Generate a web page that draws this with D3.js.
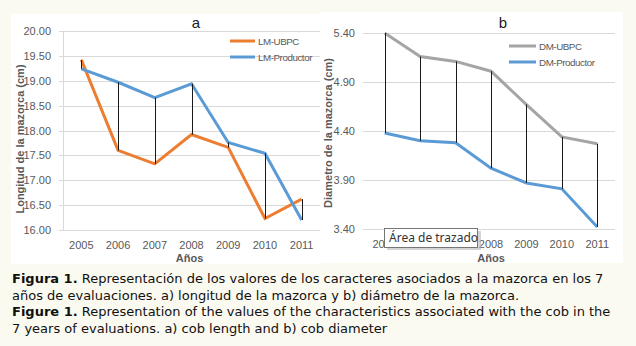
<!DOCTYPE html>
<html>
<head>
<meta charset="utf-8">
<script src="https://cdn.jsdelivr.net/npm/d3@7"></script>
<style>
  body { margin: 0; background: #fbfaf1; }
  svg { display: block; }
</style>
</head>
<body>
<div id="svgcontainer"></div>
<script>
var years = ["2005", "2006", "2007", "2008", "2009", "2010", "2011"];

// a) longitud de la mazorca (cm)
var lmUBPC = [19.42, 17.60, 17.33, 17.92, 17.66, 16.23, 16.62];
var lmProductor = [19.24, 18.97, 18.66, 18.94, 17.76, 17.54, 16.20];
var lmTicks = [16, 16.5, 17, 17.5, 18, 18.5, 19, 19.5, 20];

// b) diametro de la mazorca (cm)
var dmUBPC = [5.40, 5.16, 5.11, 5.01, 4.67, 4.34, 4.27];
var dmProductor = [4.38, 4.30, 4.28, 4.02, 3.87, 3.81, 3.42];
var dmTicks = [3.4, 3.9, 4.4, 4.9, 5.4];

var caption = [
  [["Figura 1.", true], [" Representación de los valores de los caracteres asociados a la mazorca en los 7", false]],
  [["años de evaluaciones. a) longitud de la mazorca y b) diámetro de la mazorca.", false]],
  [["Figure 1.", true], [" Representation of the values of the characteristics associated with the cob in the", false]],
  [["7 years of evaluations. a) cob length and b) cob diameter", false]]
];

var width = 636;
var height = 346;
var textGray = "#595959";

var svg = d3.select("#svgcontainer")
  .append("svg")
  .attr("width", width)
  .attr("height", height);

svg.append("rect").attr("width", width).attr("height", height).attr("fill", "#fbfaf1");

// panels
svg.append("rect").attr("x", 11).attr("y", 14).attr("width", 310).attr("height", 250).attr("fill", "white");
svg.append("rect").attr("x", 320).attr("y", 12).attr("width", 303).attr("height", 251).attr("fill", "white");

function drawChart(opt) {
  var g = svg.append("g");
  var x = d3.scaleBand().domain(years).range(opt.xr);
  var y = d3.scaleLinear().domain(opt.dom).range(opt.yr);
  var cx = function(d) { return x(d) + x.bandwidth() / 2; };

  // gridlines
  g.selectAll(".grid")
    .data(opt.ticks)
    .enter().append("line")
    .attr("x1", opt.xr[0] - 4)
    .attr("x2", opt.xr[1])
    .attr("y1", function(d) { return Math.round(y(d)) + 0.5; })
    .attr("y2", function(d) { return Math.round(y(d)) + 0.5; })
    .attr("stroke", "#d9d9d9")
    .attr("stroke-width", 1);

  if (opt.axisLine) {
    g.append("line")
      .attr("x1", opt.xr[0] + 0.5).attr("x2", opt.xr[0] + 0.5)
      .attr("y1", y(opt.dom[1])).attr("y2", y(opt.dom[0]))
      .attr("stroke", "#d9d9d9");
  }

  // y tick labels
  var yAxis = g.append("g")
    .attr("transform", "translate(" + (opt.xr[0] - 9) + ",0)")
    .call(d3.axisLeft(y).tickValues(opt.ticks).tickFormat(d3.format(".2f")).tickSize(0));
  yAxis.select(".domain").remove();
  yAxis.selectAll("text")
    .attr("fill", textGray)
    .attr("font-family", "Liberation Sans, Arial, sans-serif")
    .attr("font-size", 11);

  // x tick labels
  var xAxis = g.append("g")
    .attr("transform", "translate(0," + y(opt.dom[0]) + ")")
    .call(d3.axisBottom(x).tickSize(0).tickPadding(11));
  xAxis.select(".domain").remove();
  xAxis.selectAll("text")
    .attr("fill", textGray)
    .attr("font-family", "Liberation Sans, Arial, sans-serif")
    .attr("font-size", 11);

  var line = d3.line()
    .x(function(d, i) { return cx(years[i]); })
    .y(function(d) { return y(d); });

  g.append("path").datum(opt.s1)
    .attr("d", line).attr("fill", "none")
    .attr("stroke", opt.c1).attr("stroke-width", 3);
  g.append("path").datum(opt.s2)
    .attr("d", line).attr("fill", "none")
    .attr("stroke", opt.c2).attr("stroke-width", 3);

  // high-low lines
  g.selectAll(".hilo")
    .data(years)
    .enter().append("line")
    .attr("x1", function(d) { return Math.round(cx(d)) + 0.5; })
    .attr("x2", function(d) { return Math.round(cx(d)) + 0.5; })
    .attr("y1", function(d, i) { return y(opt.s1[i]); })
    .attr("y2", function(d, i) { return y(opt.s2[i]); })
    .attr("stroke", "#1a1a1a")
    .attr("stroke-width", 1);

  // title
  g.append("text")
    .attr("x", opt.titleX).attr("y", 28)
    .attr("text-anchor", "middle")
    .attr("font-family", "Liberation Sans, Arial, sans-serif")
    .attr("font-size", 15)
    .attr("fill", "#1a1a1a")
    .text(opt.title);

  // axis titles
  g.append("text")
    .attr("transform", "translate(" + opt.yTitleX + "," + opt.yTitleY + ") rotate(-90)")
    .attr("text-anchor", "middle")
    .attr("font-family", "Liberation Sans, Arial, sans-serif")
    .attr("font-weight", "bold")
    .attr("font-size", 11)
    .attr("fill", textGray)
    .text(opt.yTitle);

  g.append("text")
    .attr("x", (opt.xr[0] + opt.xr[1]) / 2 + opt.xTitleDx).attr("y", 262)
    .attr("text-anchor", "middle")
    .attr("font-family", "Liberation Sans, Arial, sans-serif")
    .attr("font-weight", "bold")
    .attr("font-size", 11)
    .attr("fill", textGray)
    .text("Años");

  // legend
  var leg = g.selectAll(".leg")
    .data([[opt.n1, opt.c1], [opt.n2, opt.c2]])
    .enter().append("g")
    .attr("transform", function(d, i) { return "translate(" + opt.legX + "," + (opt.legY + i * 16) + ")"; });
  leg.append("line")
    .attr("x1", 0).attr("x2", opt.legLen)
    .attr("stroke", function(d) { return d[1]; })
    .attr("stroke-width", 3);
  leg.append("text")
    .attr("x", opt.legLen + 3).attr("y", 4)
    .attr("font-family", "Liberation Sans, Arial, sans-serif")
    .attr("font-size", 9.8)
    .attr("letter-spacing", -0.45)
    .attr("fill", textGray)
    .text(function(d) { return d[0]; });
}

drawChart({
  xr: [63, 320], yr: [230, 31], dom: [16, 20], ticks: lmTicks,
  s1: lmUBPC, s2: lmProductor, c1: "#ed7d31", c2: "#5b9bd5",
  n1: "LM-UBPC", n2: "LM-Productor",
  title: "a", titleX: 196, yTitle: "Longitud de la mazorca (cm)", yTitleX: 23.5, yTitleY: 139, xTitleDx: -2,
  legX: 230, legY: 41, legLen: 25, axisLine: true
});

drawChart({
  xr: [367, 615], yr: [229, 33], dom: [3.4, 5.4], ticks: dmTicks,
  s1: dmUBPC, s2: dmProductor, c1: "#a5a5a5", c2: "#5b9bd5",
  n1: "DM-UBPC", n2: "DM-Productor",
  title: "b", titleX: 503, yTitle: "Diametro de la mazorca (cm)", yTitleX: 332, yTitleY: 133, xTitleDx: 0,
  legX: 509, legY: 46, legLen: 27, axisLine: false
});

// tooltip left over in the screenshot
var tip = svg.append("g").attr("transform", "translate(384,228)");
tip.append("rect").attr("x", 3).attr("y", 3).attr("width", 94).attr("height", 19).attr("fill", "#b8b8b8").attr("opacity", 0.6);
tip.append("rect").attr("x", 0.5).attr("y", 0.5).attr("width", 93).attr("height", 19)
  .attr("fill", "white").attr("stroke", "#767676");
tip.append("text").attr("x", 5).attr("y", 14)
  .attr("font-family", "Noto Sans, Open Sans, sans-serif")
  .attr("font-size", 12)
  .attr("fill", "#333")
  .text("Área de trazado");

// caption
var cap = svg.append("text")
  .attr("font-family", "DejaVu Sans, Verdana, sans-serif")
  .attr("font-size", 13)
  .attr("fill", "#111");
caption.forEach(function(line, i) {
  var t = cap.append("tspan").attr("x", 12).attr("y", 283 + i * 16.5);
  line.forEach(function(part, j) {
    var s = j == 0 ? t : cap.append("tspan");
    s.attr("font-weight", part[1] ? "bold" : "normal").text(part[0]);
  });
});
</script>
</body>
</html>
